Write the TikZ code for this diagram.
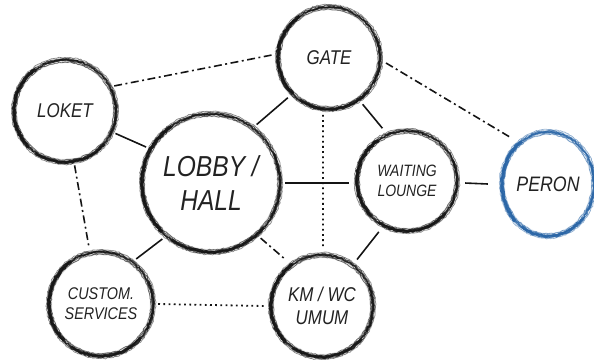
\documentclass[tikz,border=0pt]{standalone}
\usepackage{fontspec}
\newfontfamily\lblfont[FakeStretch=0.85]{Liberation Sans}
\usetikzlibrary{decorations.pathmorphing}
\definecolor{ink}{HTML}{141414}
\definecolor{txt}{HTML}{222222}
\definecolor{peronblue}{RGB}{40,100,165}
\tikzset{
  place/.style={circle, inner sep=0pt, align=center, text=txt},
  solidedge/.style={draw=ink, line width=1.6pt},
  dashdotedge/.style={draw=ink, line width=1.6pt, dash pattern=on 8pt off 3.5pt on 2pt off 3.5pt},
  dotedge/.style={draw=ink, line width=1.8pt, dash pattern=on 1.8pt off 3.4pt},
  rough/.style={decorate, decoration={random steps, segment length=2pt, amplitude=0.7pt}},
}
\newcommand\lbl[2]{\lblfont\itshape\fontsize{#1}{#2}\selectfont}
\newcommand\ring[4]{%
 \begin{scope}[shift={(#1.center)}]
  \draw[#4, line width=6pt, opacity=.12] (0,0) ellipse[x radius=#2, y radius=#3];
  \draw[#4, line width=.6pt, opacity=.5, rough] (0,0) ellipse[x radius=#2+2.5, y radius=#3+2.5];
  \draw[#4, line width=.8pt, opacity=.6, rough] (0,0) ellipse[x radius=#2-2.2, y radius=#3-2.2];
  \draw[#4, line width=1.5pt, opacity=.9, rough] (0,0) ellipse[x radius=#2, y radius=#3];
  \draw[#4, line width=.9pt, opacity=.7, rough] (0,0) ellipse[x radius=#2+1.2, y radius=#3+1.2];
  \draw[#4, line width=.8pt, opacity=.6, rough] (0,0) ellipse[x radius=#2-1, y radius=#3-1];
  \draw[#4, line width=3.4pt, opacity=.9, rough] (0,0) ++(125:#2 and #3) arc[start angle=125, end angle=225, x radius=#2, y radius=#3];
  \draw[#4, line width=3pt, opacity=.85, rough] (0,0) ++(235:#2 and #3) arc[start angle=235, end angle=320, x radius=#2, y radius=#3];
  \draw[#4, line width=2.4pt, opacity=.8, rough] (0,0) ++(330:#2 and #3) arc[start angle=330, end angle=385, x radius=#2, y radius=#3];
  \draw[#4, line width=1.6pt, opacity=.6, rough] (0,0) ++(70:#2 and #3) arc[start angle=70, end angle=115, x radius=#2, y radius=#3];
 \end{scope}}
\begin{document}
\begin{tikzpicture}[x=1bp, y=1bp]
\pgfmathsetseed{7}
\useasboundingbox (0,0) rectangle (594,359);
\node[place, minimum size=110bp, font=\lbl{20}{23}] (loket) at (65,248) {LOKET};
\node[place, minimum size=114bp, font=\lbl{20}{23}] (gate) at (329,301) {GATE};
\node[place, minimum size=148bp, font=\lbl{29}{35}] (lobby) at (211,176) {LOBBY /\\HALL};
\node[place, minimum size=116bp, font=\lbl{16.5}{20.5}] (waiting) at (407,178) {WAITING\\LOUNGE};
\node[place, minimum size=120bp, font=\lbl{21}{24}] (peron) at (548,175) {PERON};
\node[place, minimum size=114bp, font=\lbl{17}{20}] (custom) at (101,55) {CUSTOM.\\SERVICES};
\node[place, minimum size=116bp, font=\lbl{20}{23}] (km) at (322,53) {KM / WC\\UMUM};
\ring{loket}{51}{51}{ink}
\ring{gate}{51}{51}{ink}
\ring{lobby}{69}{69}{ink}
\ring{waiting}{50}{50}{ink}
\ring{peron}{46}{52}{peronblue}
\ring{custom}{52}{52}{ink}
\ring{km}{51}{51}{ink}
\draw[dashdotedge] (loket.27) -- (gate.177);
\draw[solidedge] (loket.-24) -- (lobby.151);
\draw[dashdotedge] (loket.-80) -- (custom.102);
\draw[solidedge] (lobby.52) -- (gate.224);
\draw[solidedge] (gate.-54) -- (waiting.115);
\draw[dotedge] (gate.-96) -- (km.89);
\draw[dashdotedge] (gate.-5) -- (peron.129);
\draw[solidedge] (lobby.0) -- (waiting.182);
\draw[solidedge] (waiting.-2) -- (peron.180);
\draw[solidedge] (lobby.-131) -- (custom.52);
\draw[dashdotedge] (lobby.-48) -- (km.128);
\draw[solidedge] (waiting.-119) -- (km.53);
\draw[dotedge] (custom.0) -- (km.180);
\end{tikzpicture}
\end{document}
